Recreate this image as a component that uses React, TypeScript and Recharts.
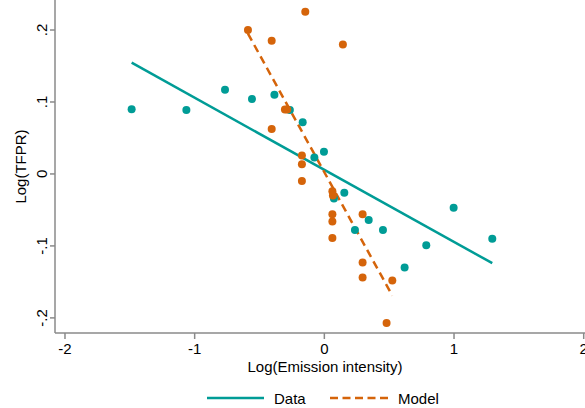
import React from "react";
import {
  ComposedChart,
  XAxis,
  YAxis,
  Scatter,
  Line,
  Legend,
  Label,
} from "recharts";

// Observed data (teal)
const dataX = [-1.486, -1.064, -0.766, -0.558, -0.385, -0.266, -0.167, -0.003, -0.077, 0.154, 0.074, 0.342, 0.236, 0.452, 0.619, 0.786, 0.997, 1.295];
const dataY = [0.090, 0.089, 0.117, 0.104, 0.110, 0.089, 0.072, 0.031, 0.023, -0.026, -0.034, -0.064, -0.078, -0.078, -0.130, -0.099, -0.047, -0.090];

// Model predictions (orange)
const modelX = [-0.589, -0.147, -0.406, 0.143, -0.304, -0.286, -0.406, -0.173, -0.173, -0.173, 0.062, 0.066, 0.062, 0.062, 0.062, 0.295, 0.295, 0.295, 0.524, 0.480];
const modelY = [0.200, 0.2255, 0.185, 0.180, 0.0895, 0.0895, 0.0625, 0.0255, 0.0134, -0.0097, -0.024, -0.030, -0.056, -0.066, -0.089, -0.056, -0.123, -0.144, -0.148, -0.207];

// Fitted lines (endpoints)
const dataFitX = [-1.486, 1.295];
const dataFitY = [0.1546, -0.124];
const modelFitX = [-0.589, 0.524];
const modelFitY = [0.195, -0.169];

const xTicks = [-2, -1, 0, 1, 2];
const yTicks = [-0.2, -0.1, 0, 0.1, 0.2];
const yTickLabels: Record<string, string> = { "-0.2": "-.2", "-0.1": "-.1", "0": "0", "0.1": ".1", "0.2": ".2" };

const TEAL = "#009C96";
const ORANGE = "#D5640A";
const AXIS = "#8a8a8a";
const FONT = "'Liberation Sans', Arial, sans-serif";

const zip = (xs: number[], ys: number[]) => xs.map((x, i) => ({ x, y: ys[i] }));
const dataPts = zip(dataX, dataY);
const modelPts = zip(modelX, modelY);
const dataFit = zip(dataFitX, dataFitY);
const modelFit = zip(modelFitX, modelFitY);

const Dot = (color: string) => (props: any) => (
  <circle cx={props.cx} cy={props.cy} r={4} fill={color} />
);

const YTick = (props: any) => {
  const { x, y, payload } = props;
  const bx = x - 1;
  return (
    <text
      x={bx}
      y={y}
      transform={`rotate(-90, ${bx}, ${y})`}
      textAnchor="middle"
      fontSize={15}
      fontFamily={FONT}
      fill="#000"
    >
      {yTickLabels[String(payload.value)]}
    </text>
  );
};

const XTick = (props: any) => {
  const { x, y, payload } = props;
  return (
    <text x={x} y={y + 13} textAnchor="middle" fontSize={15} fontFamily={FONT} fill="#000">
      {payload.value}
    </text>
  );
};

const YTitle = (props: any) => {
  const vb = props.viewBox || {};
  const cx = 25.5;
  const cy = (vb.y ?? 0) + (vb.height ?? 333) / 2;
  return (
    <text
      x={cx}
      y={cy}
      transform={`rotate(-90, ${cx}, ${cy})`}
      textAnchor="middle"
      fontSize={15}
      fontFamily={FONT}
      fill="#000"
    >
      Log(TFPR)
    </text>
  );
};

const XTitle = (props: any) => {
  const vb = props.viewBox || {};
  const cx = (vb.x ?? 55) + (vb.width ?? 530) / 2 + 5;
  return (
    <text x={cx} y={372} textAnchor="middle" fontSize={15} fontFamily={FONT} fill="#000">
      Log(Emission intensity)
    </text>
  );
};

const LegendContent = () => (
  <svg width={585} height={20} style={{ display: "block" }}>
    <line x1={207} y1={10} x2={264} y2={10} stroke={TEAL} strokeWidth={2.5} />
    <text x={274} y={16} fontSize={15} fontFamily={FONT} fill="#000">
      Data
    </text>
    <line x1={330} y1={10} x2={388} y2={10} stroke={ORANGE} strokeWidth={2.5} strokeDasharray="8 4.5" />
    <text x={398} y={16} fontSize={15} fontFamily={FONT} fill="#000">
      Model
    </text>
  </svg>
);

export default function App() {
  return (
    <div style={{ position: "absolute", left: 0, top: 0, width: 585, height: 408, background: "#fff" }}>
      <ComposedChart width={585} height={408} margin={{ top: 0, right: 0, left: 0, bottom: 0 }}>
        <XAxis
          type="number"
          dataKey="x"
          domain={[-2.077, 2.01]}
          ticks={xTicks}
          allowDataOverflow
          height={75}
          axisLine={{ stroke: AXIS, strokeWidth: 1.5 }}
          tickLine={{ stroke: AXIS, strokeWidth: 1.5 }}
          tickSize={6}
          tick={<XTick />}
          interval={0}
        >
          <Label content={<XTitle />} />
        </XAxis>
        <YAxis
          type="number"
          dataKey="y"
          domain={[-0.221, 0.2417]}
          ticks={yTicks}
          allowDataOverflow
          width={55}
          axisLine={{ stroke: AXIS, strokeWidth: 1.5 }}
          tickLine={{ stroke: AXIS, strokeWidth: 1.5 }}
          tickSize={5}
          tickMargin={2}
          tick={<YTick />}
          interval={0}
        >
          <Label content={<YTitle />} />
        </YAxis>
        <Line
          data={dataFit}
          dataKey="y"
          type="linear"
          stroke={TEAL}
          strokeWidth={2.5}
          dot={false}
          activeDot={false}
          isAnimationActive={false}
          legendType="none"
        />
        <Scatter data={dataPts} fill={TEAL} shape={Dot(TEAL)} isAnimationActive={false} legendType="none" />
        <Scatter data={modelPts} fill={ORANGE} shape={Dot(ORANGE)} isAnimationActive={false} legendType="none" />
        <Line
          data={modelFit}
          dataKey="y"
          type="linear"
          stroke={ORANGE}
          strokeWidth={2.5}
          strokeDasharray="8 5"
          dot={false}
          activeDot={false}
          isAnimationActive={false}
          legendType="none"
        />
        <Legend
          layout="horizontal"
          verticalAlign="middle"
          align="center"
          content={<LegendContent />}
          wrapperStyle={{ top: 388, left: 0, width: 585, height: 20 }}
        />
      </ComposedChart>
    </div>
  );
}
